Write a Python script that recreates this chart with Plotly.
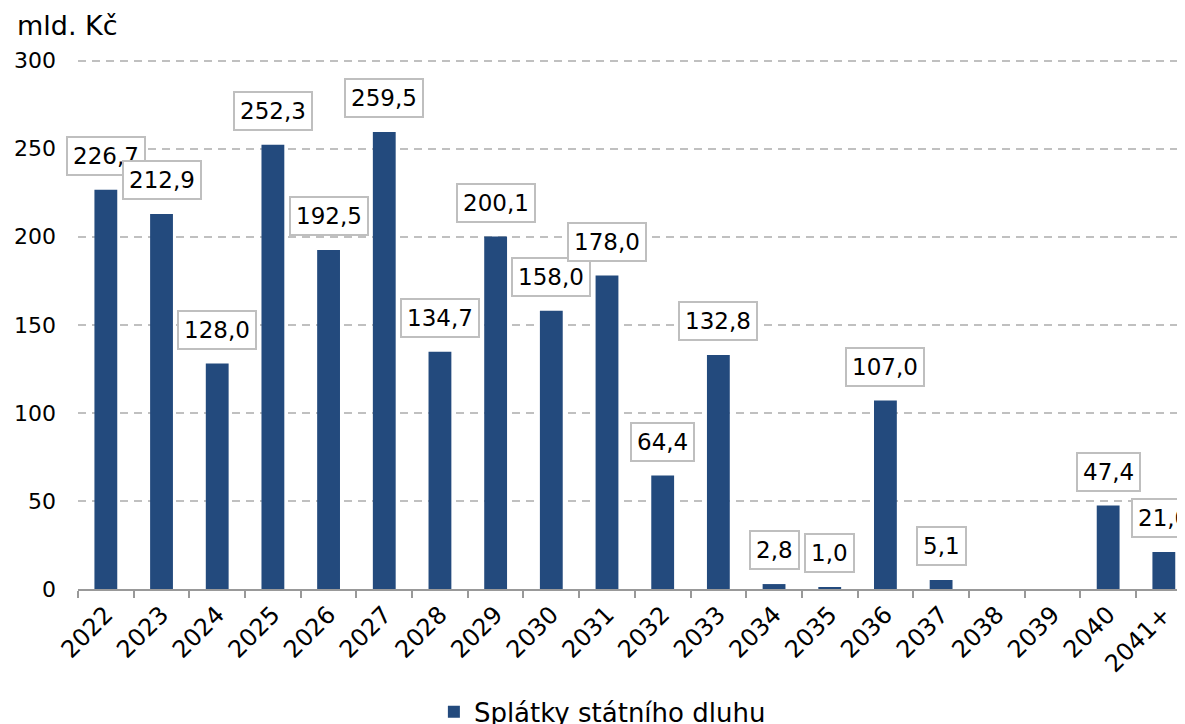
import plotly.graph_objects as go

# roky splátek a objemy (mld. Kč)
roky = ["2022", "2023", "2024", "2025", "2026", "2027", "2028", "2029", "2030", "2031",
        "2032", "2033", "2034", "2035", "2036", "2037", "2038", "2039", "2040", "2041+"]
splatky = [226.7, 212.9, 128.0, 252.3, 192.5, 259.5, 134.7, 200.1, 158.0, 178.0,
           64.4, 132.8, 2.8, 1.0, 107.0, 5.1, None, None, 47.4, 21.0]
y_ticks = [0, 50, 100, 150, 200, 250, 300]

FONT = "Verdana, DejaVu Sans, sans-serif"
BAR_COLOR = "#234A7D"
GRID_COLOR = "#C0C0C0"
AXIS_COLOR = "#999999"

fig = go.Figure()
fig.add_trace(go.Bar(
    x=roky,
    y=splatky,
    name="Splátky státního dluhu",
    marker=dict(color=BAR_COLOR, line=dict(width=0)),
))

# popisky hodnot v rámečcích (x jako index kategorie)
for i, val in enumerate(splatky):
    if val is None:
        continue
    fig.add_annotation(
        x=i, y=val, xref="x", yref="y",
        text=f"{val:.1f}".replace(".", ","), showarrow=False,
        yanchor="bottom", yshift=14,
        font=dict(family=FONT, size=23, color="#000000"),
        bgcolor="white", bordercolor="#BFBFBF", borderwidth=2, borderpad=5,
    )

# jednotka (nahoře vlevo, od horního okraje)
fig.add_annotation(
    x=-0.057, y=1.094, xref="paper", yref="paper",
    text="mld. Kč", showarrow=False, xanchor="left", yanchor="top",
    font=dict(family=FONT, size=27, color="#000000"),
)

# stránka má okraj 8 px, proto je graf o 8 px menší a posunutý
fig.update_layout(
    width=1177, height=716,
    margin=dict(l=70, r=0, t=50, b=135),
    paper_bgcolor="white", plot_bgcolor="white",
    font=dict(family=FONT, size=22, color="#000000"),
    bargap=0.59,
    showlegend=True,
    legend=dict(orientation="h", x=0.505, xref="container", xanchor="center",
                y=0.017, yref="container", yanchor="middle",
                font=dict(family=FONT, size=26)),
    xaxis=dict(
        type="category", range=[-0.5, 19.38], automargin=False,
        tickangle=-45, tickson="boundaries", ticks="outside", ticklen=7,
        tickcolor=AXIS_COLOR, tickwidth=2,
        showline=True, linecolor=AXIS_COLOR, linewidth=2,
        showgrid=False, tickfont=dict(family=FONT, size=24),
    ),
    yaxis=dict(
        range=[0, 301.5], tickvals=y_ticks, automargin=False,
        showgrid=True, gridcolor=GRID_COLOR, gridwidth=2, griddash="8px,6px",
        zeroline=False, showline=False, ticks="", ticklabelstandoff=21,
        tickfont=dict(family=FONT, size=22),
    ),
)

fig.write_html("out.html")
